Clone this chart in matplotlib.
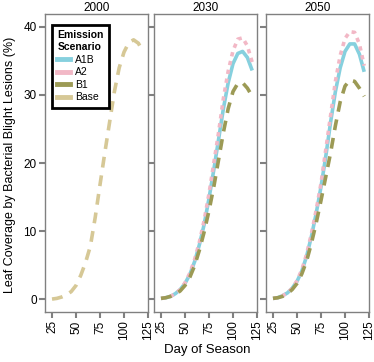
import matplotlib as mpl
mpl.use('Agg')
import matplotlib.pyplot as plt
from matplotlib.lines import Line2D

plt.rcParams['font.family'] = ['Liberation Sans', 'DejaVu Sans']

# day of season
days = [25, 30, 35, 40, 45, 50, 55, 60, 65, 70, 75, 80, 85, 90, 95, 100, 105, 110, 115, 120]

base_2000 = [0.0, 0.1, 0.3, 0.6, 1.1, 2.0, 3.5, 5.4, 7.8, 12.0, 16.8, 21.5, 26.0, 30.5, 34.0, 36.3, 37.7, 38.1, 37.6, 36.3]

a1b_2030 = [0.1, 0.2, 0.4, 0.8, 1.4, 2.3, 3.6, 5.5, 8.0, 11.0, 14.8, 19.0, 23.5, 28.0, 31.8, 34.6, 36.1, 36.4, 35.5, 33.6]
a2_2030 = [0.1, 0.2, 0.4, 0.8, 1.4, 2.4, 3.8, 5.8, 8.4, 11.6, 15.5, 20.0, 24.5, 29.5, 33.5, 36.5, 38.2, 38.4, 37.2, 34.8]
b1_2030 = [0.1, 0.2, 0.4, 0.7, 1.2, 2.0, 3.2, 4.9, 7.2, 9.9, 13.0, 16.5, 20.5, 24.5, 28.0, 30.5, 31.7, 31.8, 31.0, 29.8]

a1b_2050 = [0.1, 0.2, 0.5, 0.9, 1.6, 2.6, 4.1, 6.3, 9.2, 12.6, 16.5, 21.0, 26.0, 30.5, 34.0, 36.4, 37.5, 37.5, 36.0, 33.4]
a2_2050 = [0.1, 0.2, 0.5, 0.9, 1.6, 2.7, 4.3, 6.6, 9.6, 13.1, 17.0, 22.0, 27.0, 32.0, 35.8, 38.3, 39.3, 39.2, 37.5, 34.3]
b1_2050 = [0.1, 0.2, 0.4, 0.8, 1.4, 2.3, 3.7, 5.6, 8.2, 11.2, 14.5, 18.0, 21.5, 25.5, 29.0, 31.3, 32.2, 32.0, 31.0, 29.8]

panel_titles = ['2000', '2030', '2050']
x_ticks = [25, 50, 75, 100, 125]
y_ticks = [0, 10, 20, 30, 40]

c_a1b = '#86d0de'
c_a2 = '#f2b8c6'
c_b1 = '#9c9a55'
c_base = '#d6c896'
lw = 2.6

fig = plt.figure(figsize=(3.74, 3.62), dpi=100)
W, H = 374, 362
lefts = [45, 154, 266]
axes = []
for i, l in enumerate(lefts):
    ax = fig.add_axes([l / W, (H - 312) / H, 103 / W, 298 / H])
    ax.set_xlim(17.7, 125)
    ax.set_ylim(-1.9, 41.9)
    ax.set_xticks(x_ticks)
    ax.set_xticklabels([str(t) for t in x_ticks], rotation=90, fontsize=8.5)
    ax.set_yticks(y_ticks)
    if i == 0:
        ax.set_yticklabels([str(t) for t in y_ticks], fontsize=8.5)
    else:
        ax.set_yticklabels([])
        ax.tick_params(axis='y', length=0)
    for s in ax.spines.values():
        s.set_color('#808080')
        s.set_linewidth(1.0)
    ax.tick_params(colors='#808080', labelcolor='black', width=1.5, length=4, pad=2)
    ax.set_title(panel_titles[i], fontsize=8.5, pad=2)
    axes.append(ax)

axes[0].plot(days, base_2000, color=c_base, lw=lw, dashes=(3, 2.2))

for ax, a1b, a2, b1 in [(axes[1], a1b_2030, a2_2030, b1_2030),
                        (axes[2], a1b_2050, a2_2050, b1_2050)]:
    ax.plot(days, a1b, color=c_a1b, lw=lw, solid_capstyle='butt')
    ax.plot(days, a2, color=c_a2, lw=lw, dashes=(1.2, 1.3))
    ax.plot(days, b1, color=c_b1, lw=lw, dashes=(3, 2.2))

handles = [Line2D([], [], color=c, lw=3.5) for c in [c_a1b, c_a2, c_b1, c_base]]
leg = axes[0].legend(handles, ['A1B', 'A2', 'B1', 'Base'], title='Emission\nScenario',
                     loc='upper left', bbox_to_anchor=(0.02, 0.98), fontsize=7.5,
                     title_fontsize=7.5, handlelength=1.2, handletextpad=0.5,
                     labelspacing=0.25, borderpad=0.5, fancybox=False, framealpha=1)
leg.get_title().set_fontweight('bold')
leg._legend_box.align = 'left'
leg.get_frame().set_edgecolor('black')
leg.get_frame().set_linewidth(2)

fig.text(10 / W, 0.545, 'Leaf Coverage by Bacterial Blight Lesions (%)', rotation=90,
         ha='center', va='center', fontsize=9)
fig.text(207 / W, (H - 350) / H, 'Day of Season', ha='center', va='center', fontsize=9.5)

plt.savefig('out.png', dpi=100)
plt.close()
